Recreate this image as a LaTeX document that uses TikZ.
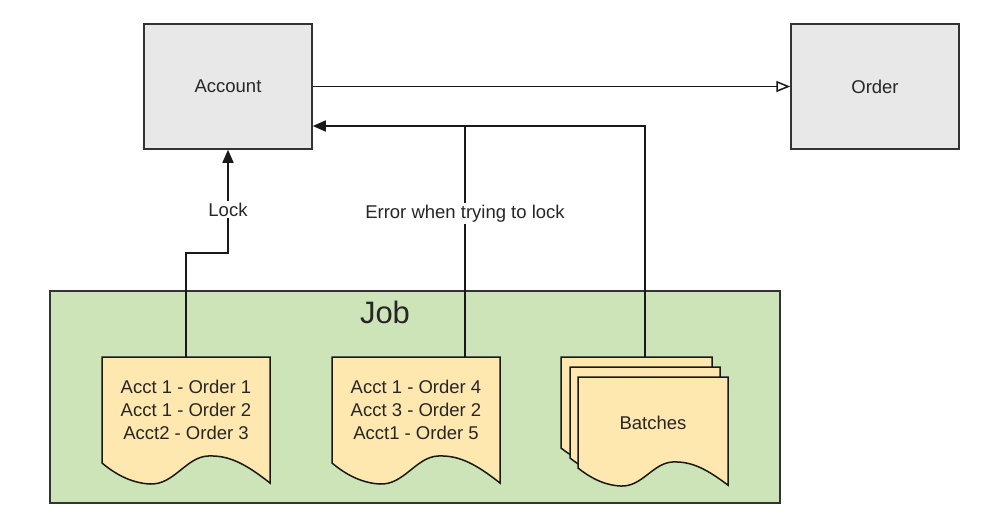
\documentclass[tikz,border=0pt]{standalone}
\usepackage{fontspec}
\setmainfont{Liberation Sans}
\usetikzlibrary{positioning,arrows.meta}
\definecolor{boxgray}{HTML}{E8E8E8}
\definecolor{jobgreen}{HTML}{CDE4B9}
\definecolor{sheetyellow}{HTML}{FFE8B0}
\definecolor{edgegray}{HTML}{333333}

% paper sheet with a wavy bottom: south west corner, width, height
\newcommand{\docsheet}[3]{%
  \begin{scope}[shift={(#1)}, xscale=#2/168, yscale=#3/106]
    \draw[sheet] (0,0) -- (0,-106) -- (168,-106) -- (168,20)
      .. controls (145,2) and (128,-8) .. (106,-7)
      .. controls (84,-6) and (72,22) .. (48,21)
      .. controls (28,20) and (12,10) .. (0,0) -- cycle;
  \end{scope}}

\begin{document}
\begin{tikzpicture}[
    x=1pt, y=-1pt,
    font=\fontsize{18.5}{23}\selectfont,
    text=black!85,
    entity/.style={rectangle, draw=edgegray, line width=1.5pt, fill=boxgray, minimum width=168pt, minimum height=125pt},
    jobarea/.style={rectangle, draw=edgegray, line width=1.5pt, fill=jobgreen, minimum width=730pt, minimum height=212pt},
    sheet/.style={draw=black!90, line width=1.5pt, fill=sheetyellow},
    sheettext/.style={align=center, minimum width=168pt, minimum height=106pt, inner sep=0pt},
    link/.style={draw=black!90, line width=1.5pt},
    tag/.style={fill=white, inner sep=2pt}
]
\useasboundingbox (0,0) rectangle (1002,528);

\node[jobarea] (job) at (415,397) {};
\node[font=\fontsize{31}{36}\selectfont] (jobtitle) at (385,312) {Job};

\docsheet{102,463}{168}{106}
\docsheet{332,463}{168}{106}
\docsheet{561,448}{151}{91}
\docsheet{570,458}{150}{91}
\docsheet{578,468}{150}{91}

\node[entity] (account) at (228,86.5) {Account};
\node[entity] (order) at (875,86.5) {Order};

\node[sheettext] (doca) at (186,410) {Acct 1 - Order 1\\Acct 1 - Order 2\\Acct2 - Order 3};
\node[sheettext] (docb) at (416,410) {Acct 1 - Order 4\\Acct 3 - Order 2\\Acct1 - Order 5};
\node[sheettext, minimum width=150pt, minimum height=91pt] (batches) at (653,422.5) {Batches};

\coordinate (lockturn) at (228,253);
\coordinate (errjoin) at (465,126);
\coordinate (stacktop) at (645,357);

\draw[link, -{Triangle[open, length=14pt, width=11pt]}] (account) -- (order);
\draw[link, -{Triangle[length=13pt, width=11pt]}] (doca.north) |- (lockturn) -- node[tag, pos=0.42] (locklabel) {Lock} (account.south);
\draw[link] (docb.north -| errjoin) -- node[tag, pos=0.62] (errlabel) {Error when trying to lock} (errjoin);
\draw[link, -{Triangle[length=13pt, width=11pt]}] (stacktop) |- (account.east |- errjoin);
\end{tikzpicture}
\end{document}
